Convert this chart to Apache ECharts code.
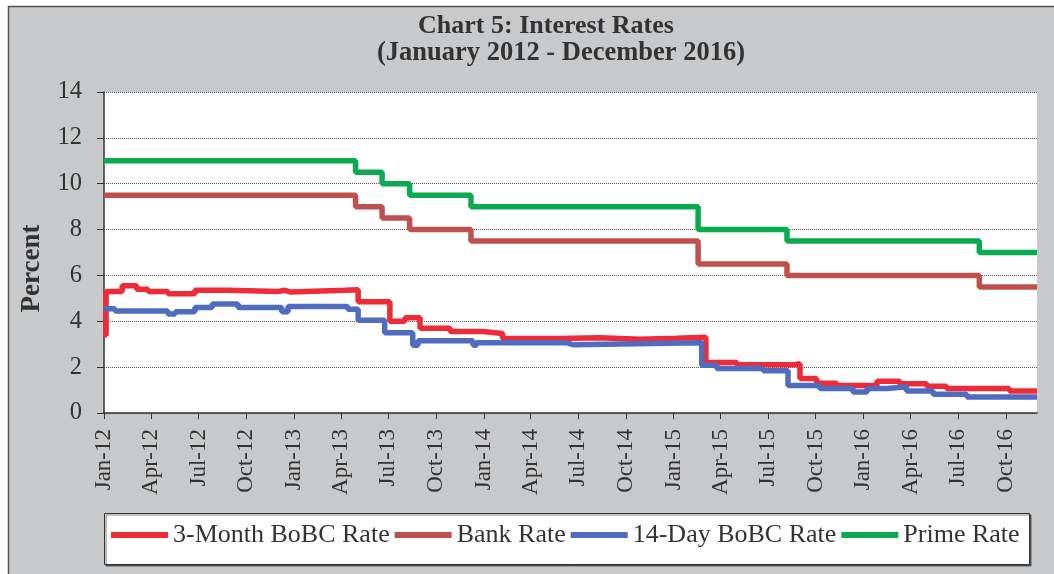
<!DOCTYPE html>
<html>
<head>
<meta charset="utf-8">
<script src="https://cdn.jsdelivr.net/npm/echarts@6/dist/echarts.min.js"></script>
<style>
  html, body { margin: 0; padding: 0; background: #fff; }
  #myChart { width: 1054px; height: 574px; }
</style>
</head>
<body>
<div id="myChart"></div>
<script>
  // 3-Month BoBC Rate (value holds until next date)
  var bobc3Dates = ['2012-01-01', '2012-01-05', '2012-02-05', '2012-03-04', '2012-03-26', '2012-05-03', '2012-06-24',
    '2012-08-27', '2012-12-01', '2012-12-14', '2012-12-24', '2013-04-09', '2013-05-04', '2013-07-04', '2013-08-02',
    '2013-08-31', '2013-10-28', '2013-12-30', '2014-02-06', '2014-05-27', '2014-08-12', '2014-10-28', '2015-01-07',
    '2015-03-04', '2015-05-03', '2015-08-18', '2015-09-01', '2015-10-03', '2015-11-11', '2016-01-27', '2016-03-11',
    '2016-05-02', '2016-06-09', '2016-10-08', '2016-11-30']
  var bobc3Values = [3.4, 5.3, 5.55, 5.4, 5.3, 5.2, 5.35,
    5.3, 5.35, 5.28, 5.35, 5.38, 4.85, 4.0, 4.15,
    3.7, 3.55, 3.47, 3.25, 3.28, 3.22, 3.26, 3.3,
    2.2, 2.1, 2.15, 1.5, 1.3, 1.2, 1.38, 1.28,
    1.17, 1.07, 0.96, 0.96]

  // 14-Day BoBC Rate
  var bobc14Dates = ['2012-01-01', '2012-01-22', '2012-05-03', '2012-05-17', '2012-06-24', '2012-07-27', '2012-09-15',
    '2012-12-08', '2012-12-20', '2013-04-14', '2013-05-04', '2013-06-24', '2013-08-17', '2013-08-27', '2013-12-11',
    '2013-12-18', '2014-06-10', '2014-06-21', '2015-02-24', '2015-03-25', '2015-06-22', '2015-08-09', '2015-10-09',
    '2015-12-12', '2016-01-08', '2016-02-15', '2016-03-24', '2016-05-14', '2016-07-18', '2016-11-30']
  var bobc14Values = [4.55, 4.45, 4.32, 4.42, 4.6, 4.75, 4.6,
    4.42, 4.65, 4.52, 4.05, 3.5, 2.96, 3.15, 2.96,
    3.06, 2.98, 3.06, 2.08, 1.94, 1.84, 1.2, 1.07,
    0.92, 1.07, 1.14, 0.96, 0.82, 0.7, 0.7]

  // Bank Rate and Prime Rate change dates
  var policyDates = ['2012-01-01', '2013-04-29', '2013-06-19', '2013-08-11', '2013-12-07', '2015-02-17', '2015-08-07',
    '2016-08-11', '2016-11-30']
  var bankValues = [9.5, 9.0, 8.5, 8.0, 7.5, 6.5, 6.0, 5.5, 5.5]
  var primeValues = [11, 10.5, 10, 9.5, 9.0, 8.0, 7.5, 7.0, 7.0]

  var seriesNames = ['3-Month BoBC Rate', 'Bank Rate', '14-Day BoBC Rate', 'Prime Rate']
  var seriesColors = ['#EE2B36', '#C0504D', '#4F6CC0', '#0BAA50']
  var monthNames = ['Jan', 'Feb', 'Mar', 'Apr', 'May', 'Jun', 'Jul', 'Aug', 'Sep', 'Oct', 'Nov', 'Dec']

  function toTime(s) {
    var p = s.split('-')
    return new Date(+p[0], +p[1] - 1, +p[2]).getTime()
  }

  // quarterly x-axis ticks Jan-12 ... Oct-16
  var tickDates = []
  for (var y = 2012; y <= 2016; y++) {
    for (var m = 0; m < 12; m += 3) {
      tickDates.push(new Date(y, m, 1).getTime())
    }
  }

  function pairs(dates, values) {
    return dates.map(function(d, i) { return [toTime(d), values[i]] })
  }

  function lineSeries(idx, data) {
    return {
      name: seriesNames[idx],
      type: 'line',
      step: 'end',
      symbol: 'none',
      data: data,
      color: seriesColors[idx],
      lineStyle: { width: 5.5, color: seriesColors[idx] }
    }
  }

  var serif = '"Liberation Serif", "DejaVu Serif", serif'
  var myChart = echarts.init(document.getElementById('myChart'))
  myChart.setOption({
    animation: false,
    textStyle: { fontFamily: serif },
    title: [{
      text: 'Chart 5: Interest Rates',
      left: 541, top: 8, textAlign: 'center',
      textStyle: { fontFamily: serif, fontWeight: 'bold', fontSize: 26, color: '#333' }
    }, {
      text: '(January 2012 - December 2016)',
      left: 556, top: 35, textAlign: 'center',
      textStyle: { fontFamily: serif, fontWeight: 'bold', fontSize: 26.5, color: '#333' }
    }],
    graphic: [{
      type: 'rect', z: -10, silent: true,
      shape: { x: 8.5, y: 6.5, width: 1200, height: 800 },
      style: { fill: '#C8C9CB', stroke: '#555', lineWidth: 1.5 }
    }, {
      type: 'rect', z: 1, silent: true,
      shape: { x: 104.5, y: 513.5, width: 925, height: 51 },
      style: { fill: '#fff', stroke: '#333', lineWidth: 1, shadowColor: 'rgba(0,0,0,0.5)', shadowOffsetX: 1.5, shadowOffsetY: 1.5 }
    }],
    legend: {
      data: seriesNames,
      left: 111, top: 522,
      padding: 0,
      itemGap: 5,
      itemWidth: 57, itemHeight: 6,
      icon: 'rect',
      textStyle: { fontFamily: serif, fontSize: 26, color: '#333' }
    },
    grid: {
      left: 104, right: 17, top: 92, bottom: 161,
      show: true, backgroundColor: '#fff', borderWidth: 0
    },
    xAxis: {
      type: 'value',
      min: toTime('2012-01-01'),
      max: toTime('2016-11-30'),
      axisLine: { lineStyle: { color: '#333', width: 1.5 } },
      axisTick: { show: true, length: 6, lineStyle: { color: '#333' }, customValues: tickDates },
      splitLine: { show: false },
      axisLabel: {
        customValues: tickDates,
        rotate: 90, margin: 16,
        fontFamily: serif, fontSize: 23, color: '#333',
        formatter: function(val) {
          var d = new Date(val)
          return monthNames[d.getMonth()] + '-' + String(d.getFullYear()).slice(2)
        }
      }
    },
    yAxis: {
      type: 'value',
      min: 0, max: 14, interval: 2,
      name: 'Percent',
      nameLocation: 'middle',
      nameGap: 58,
      nameTextStyle: { fontFamily: serif, fontWeight: 'bold', fontSize: 27, color: '#333', padding: [0, 32, 0, 0] },
      axisLine: { show: true, lineStyle: { color: '#333', width: 1.5 } },
      axisTick: { show: true, length: 7, lineStyle: { color: '#333' } },
      axisLabel: { margin: 22, fontFamily: serif, fontSize: 24.5, color: '#333' },
      splitLine: { show: true, lineStyle: { color: '#555', type: 'dotted', width: 1 } }
    },
    series: [
      lineSeries(0, pairs(bobc3Dates, bobc3Values)),
      lineSeries(1, pairs(policyDates, bankValues)),
      lineSeries(2, pairs(bobc14Dates, bobc14Values)),
      lineSeries(3, pairs(policyDates, primeValues))
    ]
  })
</script>
</body>
</html>
